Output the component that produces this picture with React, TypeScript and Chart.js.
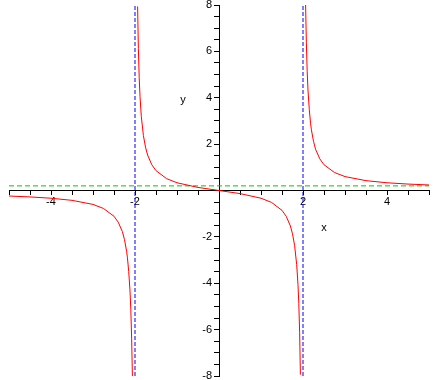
import React, { useEffect, useRef } from "react";
import { Chart, registerables } from "chart.js";

Chart.register(...registerables);

// Branches of the plotted curve
const leftX = [-5, -4.5, -4, -3.5, -3, -2.75, -2.5, -2.4, -2.3, -2.25, -2.2, -2.18, -2.15, -2.12, -2.1, -2.08, -2.062];
const leftY = [-0.238, -0.277, -0.333, -0.424, -0.6, -0.775, -1.111, -1.364, -1.775, -2.12, -2.62, -2.9, -3.49, -4.29, -5.12, -6.37, -8.0];

const midX = [-1.938, -1.92, -1.9, -1.88, -1.85, -1.8, -1.75, -1.7, -1.6, -1.5, -1.25, -1, -0.5, 0, 0.5, 1, 1.25, 1.5, 1.6, 1.7, 1.75, 1.8, 1.85, 1.88, 1.9, 1.92, 1.938];
const midY = [7.94, 6.12, 4.87, 4.04, 3.2, 2.37, 1.87, 1.53, 1.11, 0.857, 0.513, 0.333, 0.133, 0, -0.133, -0.333, -0.513, -0.857, -1.11, -1.53, -1.87, -2.37, -3.2, -4.04, -4.87, -6.12, -7.94];

const rightX = [2.062, 2.08, 2.1, 2.12, 2.15, 2.18, 2.2, 2.25, 2.3, 2.4, 2.5, 2.75, 3, 3.5, 4, 4.5, 5];
const rightY = [8.0, 6.37, 5.12, 4.29, 3.49, 2.9, 2.62, 2.12, 1.775, 1.364, 1.111, 0.775, 0.6, 0.424, 0.333, 0.277, 0.238];

const asymptoteX = [-2, 2];
const horizontalY = 0.2;
const xRange = [-5, 5];
const yRange = [-8, 8];
const xLabeledTicks = [-4, -2, 2, 4];
const yLabeledTicks = [-8, -6, -4, -2, 2, 4, 6, 8];

const xTitle = { text: "x", x: 2.5, y: -1.62 };
const yTitle = { text: "y", x: -0.86, y: 3.9 };

const FONT = "11px 'Liberation Sans', sans-serif";

const zip = (xs: number[], ys: number[]) => xs.map((x, i) => ({ x, y: ys[i] }));

const textPlugin = {
  id: "axisText",
  afterDraw(chart: any) {
    const { ctx, scales } = chart;
    ctx.save();
    ctx.fillStyle = "#000";
    ctx.font = FONT;
    ctx.textAlign = "center";
    ctx.textBaseline = "middle";
    for (const t of [xTitle, yTitle]) {
      ctx.fillText(t.text, scales.x.getPixelForValue(t.x), scales.y.getPixelForValue(t.y));
    }
    // y tick labels, to the left of the centred y axis
    const axisX = scales.x.getPixelForValue(0);
    ctx.textAlign = "right";
    for (const v of yLabeledTicks) {
      ctx.fillText(String(v), axisX - 7, scales.y.getPixelForValue(v));
    }
    ctx.restore();
  },
};

export default function App() {
  const ref = useRef<HTMLCanvasElement>(null);
  useEffect(() => {
    document.body.style.margin = "0";
    const red = { borderColor: "#ff0000", borderWidth: 1, pointRadius: 0, showLine: true, tension: 0, fill: false, order: 1 };
    const datasets: any[] = [
      { ...red, data: zip(leftX, leftY) },
      { ...red, data: zip(midX, midY) },
      { ...red, data: zip(rightX, rightY) },
      ...asymptoteX.map((ax) => ({
        data: zip([ax, ax], yRange),
        borderColor: "#0000ff",
        borderWidth: 1,
        borderDash: [4, 2],
        pointRadius: 0,
        showLine: true,
        order: 0,
      })),
      {
        data: zip(xRange, [horizontalY, horizontalY]),
        borderColor: "#00cc00",
        borderWidth: 1,
        borderDash: [5, 3],
        pointRadius: 0,
        showLine: true,
        order: 2,
      },
    ];
    const xTickCb = (v: any) => (xLabeledTicks.includes(Number(v)) ? String(v) : "");
    const font = { family: "'Liberation Sans', sans-serif", size: 11 };
    const zeroPad = (s: any) => {
      s.paddingTop = 0;
      s.paddingBottom = 0;
      s.paddingLeft = 0;
      s.paddingRight = 0;
    };
    const chart = new Chart(ref.current!, {
      type: "scatter",
      data: { datasets },
      plugins: [textPlugin],
      options: {
        animation: false,
        responsive: false,
        layout: { padding: { left: 9, right: 11, top: 5, bottom: 4 } },
        plugins: { legend: { display: false }, tooltip: { enabled: false } },
        scales: {
          x: {
            type: "linear",
            position: { y: 0 } as any,
            min: xRange[0],
            max: xRange[1],
            afterFit: zeroPad,
            grid: { drawOnChartArea: false, drawTicks: true, tickLength: 4, color: "#000" },
            border: { display: true, color: "#000", width: 1 },
            ticks: { stepSize: 0.5, autoSkip: false, maxRotation: 0, color: "#000", font, padding: 1, callback: xTickCb },
          },
          y: {
            type: "linear",
            position: { x: 0 } as any,
            min: yRange[0],
            max: yRange[1],
            afterFit: zeroPad,
            grid: { drawOnChartArea: false, drawTicks: true, tickLength: 5, color: "#000" },
            border: { display: true, color: "#000", width: 1 },
            ticks: { stepSize: 0.5, autoSkip: false, color: "#000", font, callback: () => "" },
          },
        },
      },
    });
    return () => chart.destroy();
  }, []);
  return <canvas ref={ref} width={440} height={380} style={{ display: "block" }} />;
}
